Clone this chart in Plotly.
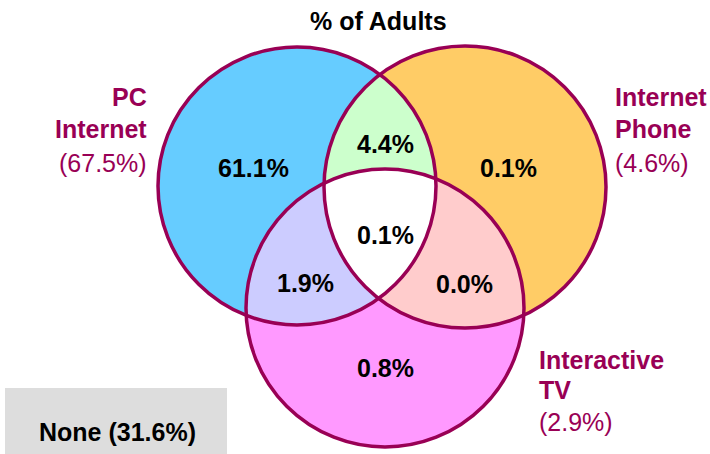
import numpy as np
import plotly.graph_objects as go

# ---- data ----
title_text = "% of Adults"
set_names = [["PC", "Internet"], ["Internet", "Phone"], ["Interactive", "TV"]]
set_totals = ["(67.5%)", "(4.6%)", "(2.9%)"]
region_names = ["PC only", "Phone only", "TV only", "PC+Phone", "PC+TV", "Phone+TV", "All"]
region_values = ["61.1%", "0.1%", "0.8%", "4.4%", "1.9%", "0.0%", "0.1%"]
none_label = "None (31.6%)"

# ---- geometry (pixel-like data coords) ----
circles = {"PC": (297, 186, 139), "Phone": (465, 187, 141), "TV": (385, 308, 139)}
fill_single = {"PC": "#66CCFF", "Phone": "#FFCC66", "TV": "#FF99FF"}
fill_pair = {("PC", "Phone"): "#CCFFCC", ("PC", "TV"): "#CCCCFF", ("Phone", "TV"): "#FFCCCC"}
outline = "#990055"
label_col = "#990055"
FONT = "Liberation Sans, Arial, sans-serif"


def circle_pts(c, n=1440):
    cx, cy, r = c
    t = np.linspace(0, 2 * np.pi, n, endpoint=False)
    return np.column_stack([cx + r * np.cos(t), cy + r * np.sin(t)])


def inside(p, c):
    cx, cy, r = c
    return (p[:, 0] - cx) ** 2 + (p[:, 1] - cy) ** 2 <= r * r + 1e-6


def intersection_poly(names):
    pts = []
    for nm in names:
        p = circle_pts(circles[nm])
        m = np.ones(len(p), bool)
        for other in names:
            if other != nm:
                m &= inside(p, circles[other])
        pts.append(p[m])
    pts = np.vstack(pts)
    c = pts.mean(axis=0)
    ang = np.arctan2(pts[:, 1] - c[1], pts[:, 0] - c[0])
    return pts[np.argsort(ang)]


def path_of(pts):
    return "M " + " L ".join(f"{x:.2f},{y:.2f}" for x, y in pts) + " Z"


shapes = []
# none box
shapes.append(dict(type="rect", xref="x", yref="y", x0=5, x1=227, y0=388, y1=456,
                   fillcolor="#DDDDDD", line=dict(width=0), layer="below"))
# single circle fills
for nm in ["PC", "Phone", "TV"]:
    cx, cy, r = circles[nm]
    shapes.append(dict(type="circle", xref="x", yref="y", x0=cx - r, x1=cx + r, y0=cy - r, y1=cy + r,
                       fillcolor=fill_single[nm], line=dict(width=0)))
# pair fills
for pair, col in fill_pair.items():
    shapes.append(dict(type="path", xref="x", yref="y", path=path_of(intersection_poly(list(pair))),
                       fillcolor=col, line=dict(width=0)))
# triple
shapes.append(dict(type="path", xref="x", yref="y", path=path_of(intersection_poly(["PC", "Phone", "TV"])),
                   fillcolor="#FFFFFF", line=dict(width=0)))
# outlines
for nm in ["PC", "Phone", "TV"]:
    cx, cy, r = circles[nm]
    shapes.append(dict(type="circle", xref="x", yref="y", x0=cx - r, x1=cx + r, y0=cy - r, y1=cy + r,
                       fillcolor="rgba(0,0,0,0)", line=dict(color=outline, width=3.5)))

annotations = []


def ann(text, x, y, size=25, color="black", bold=True, xanchor="center"):
    t = f"<b>{text}</b>" if bold else text
    annotations.append(dict(text=t, x=x, y=y, xref="x", yref="y", showarrow=False,
                            xanchor=xanchor, yanchor="middle",
                            font=dict(family=FONT, size=size, color=color)))


ann(title_text, 378, 21, size=25)

region_pos = [(253, 168), (508, 168), (385, 368), (385, 144), (305, 283), (464, 284), (385, 235)]
for v, (x, y) in zip(region_values, region_pos):
    ann(v, x, y)

# set labels
ann(set_names[0][0], 149, 97, color=label_col, xanchor="right")
ann(set_names[0][1], 149, 129, color=label_col, xanchor="right")
ann(set_totals[0], 149, 163, color=label_col, bold=False, xanchor="right")

ann(set_names[1][0], 613, 97, color=label_col, xanchor="left")
ann(set_names[1][1], 613, 129, color=label_col, xanchor="left")
ann(set_totals[1], 613, 163, color=label_col, bold=False, xanchor="left")

ann(set_names[2][0], 537, 360, color=label_col, xanchor="left")
ann(set_names[2][1], 537, 390, color=label_col, xanchor="left")
ann(set_totals[2], 537, 422, color=label_col, bold=False, xanchor="left")

ann(none_label, 117, 432)

fig = go.Figure()
fig.add_trace(go.Scatter(x=[0, 710], y=[0, 454], mode="markers", marker=dict(opacity=0),
                         hoverinfo="skip", showlegend=False))
fig.update_layout(
    width=710, height=454, margin=dict(l=0, r=0, t=0, b=0),
    paper_bgcolor="white", plot_bgcolor="white",
    xaxis=dict(range=[0, 710], visible=False, fixedrange=True),
    yaxis=dict(range=[454, 0], visible=False, fixedrange=True),
    shapes=shapes, annotations=annotations, showlegend=False,
)
fig.write_html("out.html")
